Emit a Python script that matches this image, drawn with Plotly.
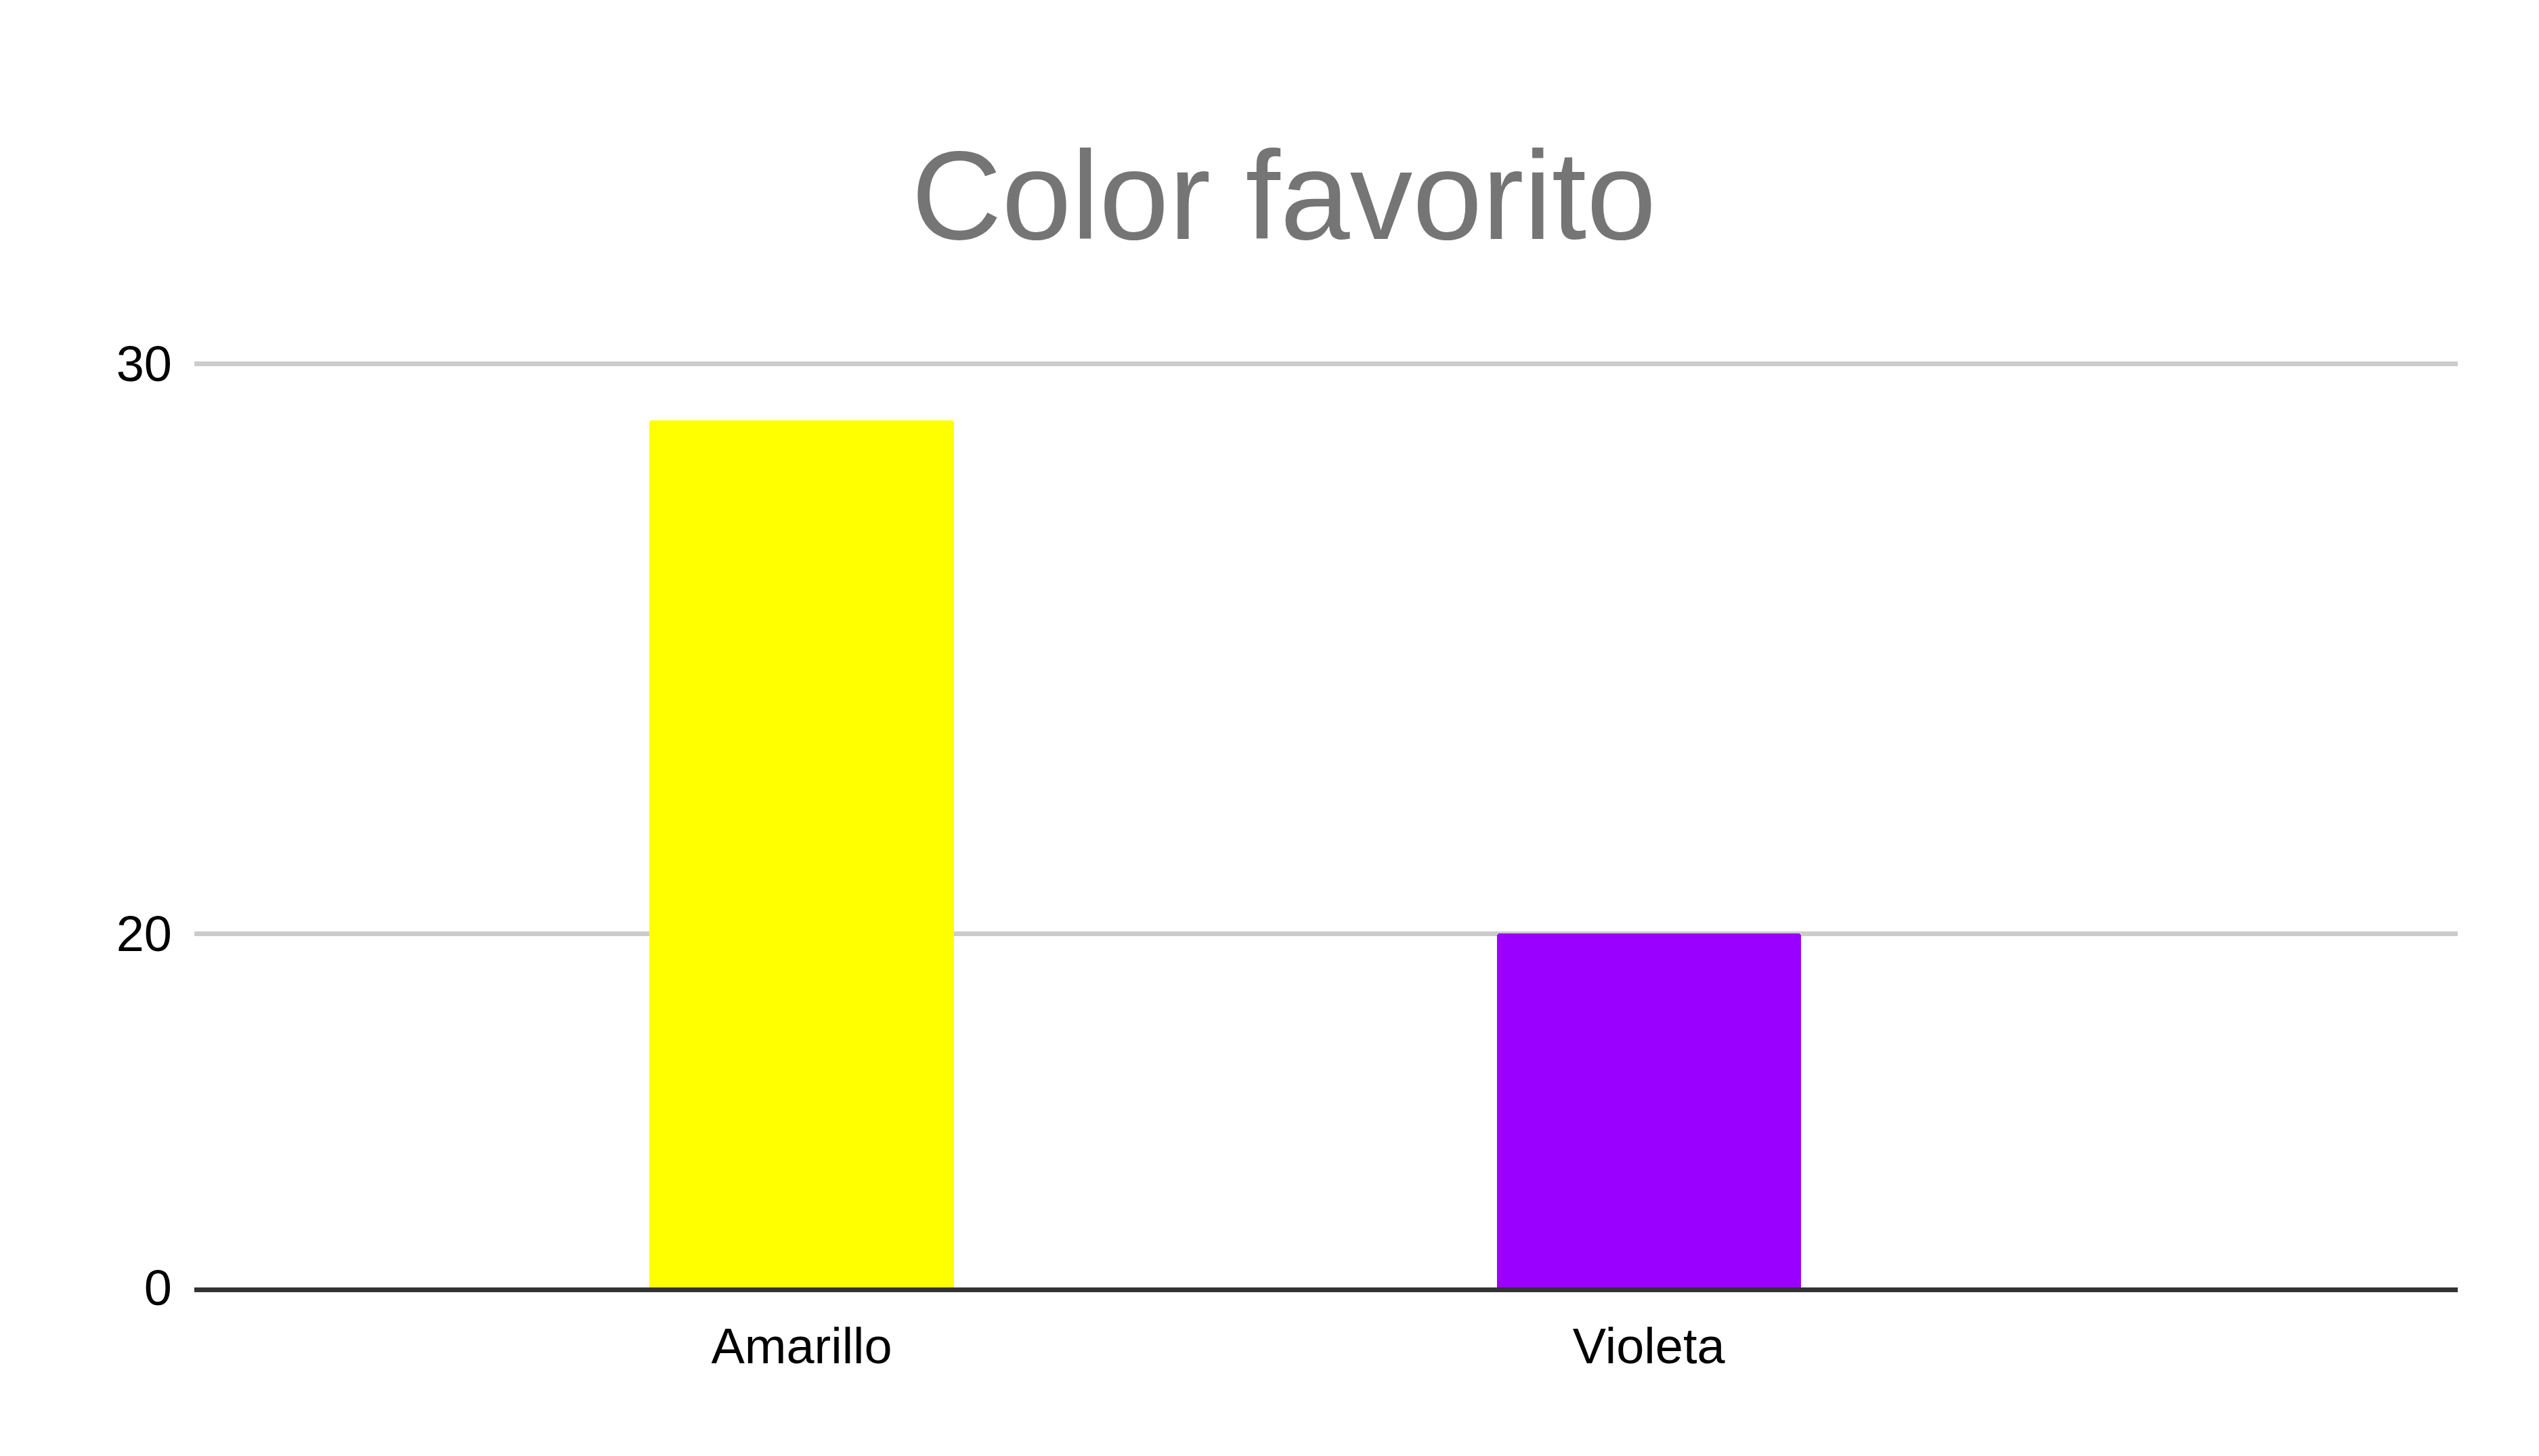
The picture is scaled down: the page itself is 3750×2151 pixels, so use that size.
import plotly.graph_objects as go

# Data
categories = ["Amarillo", "Violeta"]
values = [29, 20]
bar_colors = ["#ffff00", "#9900ff"]
y_tick_vals = [13.79, 20, 30]
y_tick_text = ["0", "20", "30"]
title_text = "Color favorito"

fig = go.Figure()
fig.add_trace(go.Bar(
    x=categories,
    y=values,
    marker=dict(color=bar_colors, line=dict(width=0), cornerradius=4),
    width=0.359,
    showlegend=False,
    hoverinfo="x+y",
))

font_family = "Liberation Sans, Arial, sans-serif"

W, H = 3734, 2135

fig.update_layout(
    width=W,
    height=H,
    paper_bgcolor="white",
    plot_bgcolor="white",
    margin=dict(l=279, r=112, t=524, b=241, pad=0),
    title=dict(
        text=title_text,
        font=dict(family=font_family, size=185, color="#757575"),
        x=1888 / W,
        xanchor="center",
        xref="container",
        y=1 - 280 / H,
        yref="container",
        yanchor="middle",
    ),
    font=dict(family=font_family, size=74, color="#000000"),
    bargap=0,
)

fig.update_xaxes(
    type="category",
    range=[-0.717, 1.955],
    showgrid=False,
    showline=True,
    linecolor="#333333",
    linewidth=7,
    ticks="",
    tickfont=dict(family=font_family, size=74, color="#000000"),
    ticklabelstandoff=16,
    zeroline=False,
)

fig.update_yaxes(
    range=[y_tick_vals[0], 30.06],
    tickmode="array",
    tickvals=y_tick_vals,
    ticktext=y_tick_text,
    showgrid=True,
    gridcolor="#cccccc",
    gridwidth=7,
    zeroline=False,
    showline=False,
    ticks="",
    tickfont=dict(family=font_family, size=74, color="#000000"),
    ticklabelstandoff=32,
)

fig.write_html("out.html")
